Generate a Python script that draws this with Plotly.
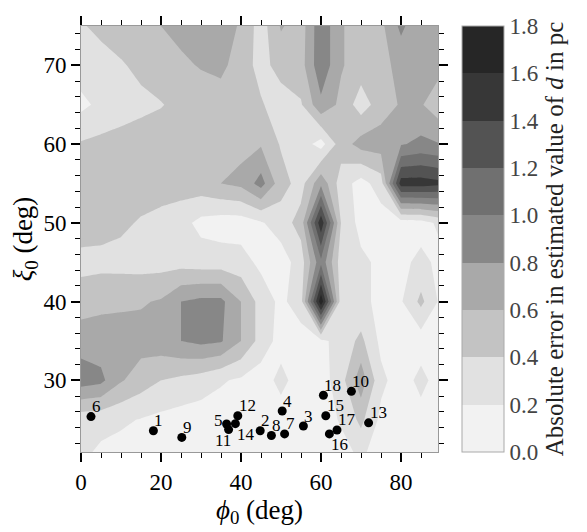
import plotly.graph_objects as go

# grid of the error map (phi0 across, xi0 down the rows)
phi_grid = [0, 5, 10, 15, 20, 25, 30, 35, 40, 45, 50, 55, 60, 65, 70, 75, 80, 85, 90]
xi_grid = [20, 25, 30, 35, 40, 45, 50, 55, 60, 65, 70, 75]

err = [
    [0.22, 0.15, 0.12, 0.10, 0.10, 0.10, 0.10, 0.10, 0.10, 0.10, 0.10, 0.10, 0.10, 0.12, 0.22, 0.10, 0.10, 0.10, 0.10],
    [0.28, 0.26, 0.23, 0.19, 0.15, 0.12, 0.10, 0.10, 0.10, 0.10, 0.10, 0.10, 0.10, 0.22, 0.45, 0.15, 0.10, 0.12, 0.10],
    [0.90, 0.85, 0.62, 0.50, 0.40, 0.35, 0.30, 0.22, 0.17, 0.10, 0.26, 0.10, 0.10, 0.32, 0.72, 0.25, 0.10, 0.26, 0.10],
    [0.72, 0.70, 0.68, 0.68, 0.72, 0.80, 0.85, 0.82, 0.60, 0.32, 0.12, 0.10, 0.15, 0.28, 0.45, 0.15, 0.10, 0.10, 0.10],
    [0.50, 0.55, 0.57, 0.58, 0.62, 0.80, 0.85, 0.85, 0.60, 0.32, 0.15, 0.32, 1.75, 0.30, 0.25, 0.15, 0.18, 0.45, 0.15],
    [0.34, 0.34, 0.33, 0.32, 0.32, 0.32, 0.30, 0.30, 0.28, 0.15, 0.10, 0.30, 0.95, 0.30, 0.25, 0.15, 0.15, 0.25, 0.15],
    [0.50, 0.48, 0.44, 0.38, 0.33, 0.27, 0.14, 0.10, 0.10, 0.18, 0.30, 0.48, 1.55, 0.40, 0.12, 0.10, 0.10, 0.12, 0.25],
    [0.50, 0.50, 0.50, 0.50, 0.50, 0.50, 0.52, 0.60, 0.65, 0.88, 0.48, 0.32, 0.75, 0.30, 0.12, 0.30, 1.50, 1.50, 1.45],
    [0.42, 0.45, 0.48, 0.50, 0.50, 0.50, 0.50, 0.52, 0.55, 0.58, 0.38, 0.30, 0.12, 0.50, 0.68, 0.70, 0.78, 0.85, 0.80],
    [0.15, 0.25, 0.30, 0.35, 0.39, 0.45, 0.45, 0.50, 0.50, 0.42, 0.30, 0.38, 0.75, 0.55, 0.30, 0.50, 0.62, 0.62, 0.45],
    [0.30, 0.32, 0.38, 0.45, 0.50, 0.55, 0.62, 0.65, 0.50, 0.33, 0.48, 0.52, 0.95, 0.62, 0.50, 0.55, 0.65, 0.65, 0.65],
    [0.38, 0.45, 0.50, 0.52, 0.60, 0.68, 0.70, 0.68, 0.58, 0.30, 0.62, 0.50, 0.95, 0.62, 0.50, 0.55, 0.85, 0.62, 0.68],
]

# the numbered sources
src_phi = [18.1, 44.8, 55.6, 50.3, 36.4, 2.5, 50.9, 47.6, 25.2, 67.6, 36.9, 39.2, 71.9, 38.6, 61.2, 62.1, 64.0, 60.6]
src_xi = [23.6, 23.6, 24.2, 26.1, 24.45, 25.4, 23.2, 23.0, 22.75, 28.6, 23.75, 25.5, 24.6, 24.5, 25.5, 23.2, 23.7, 28.1]
src_label = [str(i) for i in range(1, 19)]

# where each number sits relative to its dot (most are up and to the right)
label_side = ['above'] * 18
label_side[4] = 'left'      # 5
label_side[10] = 'below_l'  # 11
label_side[13] = 'below'    # 14
label_side[15] = 'below'    # 16

greys = ['#f2f2f2', '#d9d9d9', '#bdbdbd', '#a6a6a6', '#878787',
         '#737373', '#595959', '#404040', '#262626']
cscale = [[0.0, greys[0]]]
for i, c in enumerate(greys):
    cscale.append([0.1 * (i + 1), c])
cscale.append([1.0, greys[-1]])

serif = '"Liberation Serif", "Times New Roman", Times, serif'

fig = go.Figure()
fig.add_trace(go.Contour(
    x=phi_grid, y=xi_grid, z=err,
    zmin=0, zmax=1.8, autocontour=False,
    contours=dict(start=0, end=1.8, size=0.2, coloring='fill', showlines=False),
    line=dict(width=0, smoothing=0),
    colorscale=cscale,
    colorbar=dict(
        x=1.067, xanchor='left', xpad=0, y=0.5, yanchor='middle', ypad=0,
        len=1, lenmode='fraction', thickness=42,
        outlinewidth=1, outlinecolor='#aaaaaa',
        tickmode='array', tickvals=[0, 0.2, 0.4, 0.6, 0.8, 1.0, 1.2, 1.4, 1.6, 1.8],
        ticktext=['0.0', '0.2', '0.4', '0.6', '0.8', '1.0', '1.2', '1.4', '1.6', '1.8'],
        ticks='', ticklabelposition='outside',
        tickfont=dict(family=serif, size=23, color='#444444'),
        title=dict(text='Absolute error in estimated value of <i>d</i> in pc',
                   side='right', font=dict(family=serif, size=25, color='#222222')),
    ),
    hoverinfo='skip',
))

fig.add_trace(go.Scatter(
    x=src_phi, y=src_xi, mode='markers',
    marker=dict(color='black', size=9),
    showlegend=False, cliponaxis=False, hoverinfo='skip',
))

for px_, xi_, lab, side in zip(src_phi, src_xi, src_label, label_side):
    if side == 'above':
        anc, xs, ys = 'left', -1, 10
    elif side == 'left':
        anc, xs, ys = 'right', -2, 4
    elif side == 'below_l':
        anc, xs, ys = 'right', 4, -11
    else:
        anc, xs, ys = 'left', 0, -11
    fig.add_annotation(x=px_, y=xi_, text=lab, showarrow=False,
                       xanchor=anc, yanchor='middle', xshift=xs, yshift=ys,
                       font=dict(family=serif, size=17, color='black'))

# empty trace so the top / right tick axes get drawn
fig.add_trace(go.Scatter(x=[None], y=[None], xaxis='x2', yaxis='y2',
                         showlegend=False, hoverinfo='skip'))

tick_style = dict(
    ticks='outside', ticklen=9, tickwidth=2, tickcolor='black',
    showgrid=False, zeroline=False,
    tickfont=dict(family=serif, size=23, color='black'),
)
x_minor = dict(dtick=5, ticks='outside', ticklen=5, tickwidth=1.2, tickcolor='black')
y_minor = dict(dtick=2, ticks='outside', ticklen=5, tickwidth=1.2, tickcolor='black')

fig.update_layout(
    width=579, height=524,
    margin=dict(l=73, r=149, t=9, b=80),
    paper_bgcolor='white', plot_bgcolor='white',
    showlegend=False,
    xaxis=dict(range=[0, 89.25], dtick=20, tick0=0, minor=x_minor,
               showline=True, linecolor='#999999', linewidth=1,
               title=dict(text='<i>ϕ</i><sub>0</sub> (deg)', standoff=4,
                          font=dict(family=serif, size=27, color='black')),
               **tick_style),
    yaxis=dict(range=[20.9, 75], dtick=10, tick0=0, minor=y_minor,
               showline=True, linecolor='#999999', linewidth=1,
               title=dict(text='<i>ξ</i><sub>0</sub> (deg)', standoff=4,
                          font=dict(family=serif, size=27, color='black')),
               **tick_style),
    xaxis2=dict(range=[0, 89.25], dtick=20, tick0=0, minor=x_minor,
                overlaying='x', side='top', showticklabels=False,
                showline=True, linecolor='#999999', linewidth=1, **tick_style),
    yaxis2=dict(range=[20.9, 75], dtick=10, tick0=0, minor=y_minor,
                overlaying='y', side='right', showticklabels=False,
                showline=True, linecolor='#999999', linewidth=1, **tick_style),
)

fig.write_html("out.html")
